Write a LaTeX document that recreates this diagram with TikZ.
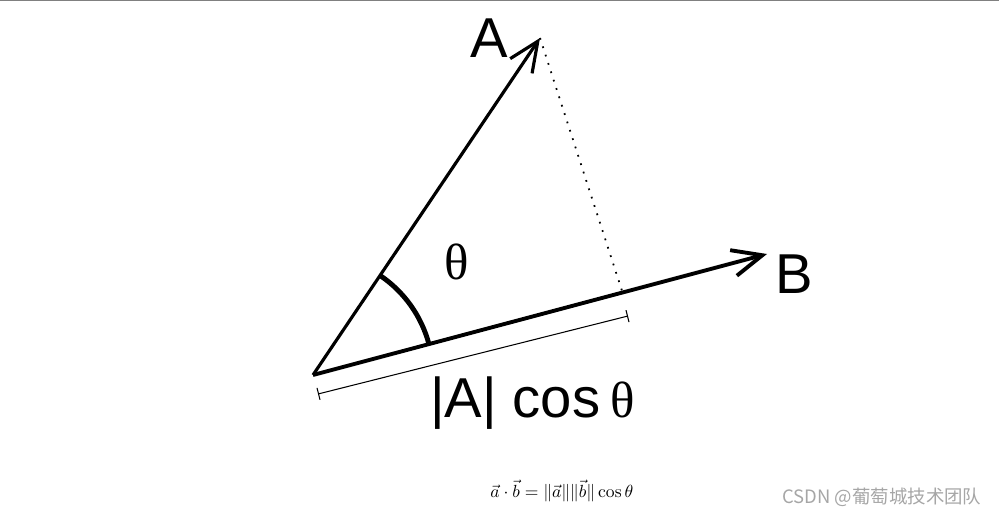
\documentclass[tikz,border=0pt]{standalone}
\usepackage[no-math]{fontspec}
\setmainfont{Liberation Sans}
\newfontfamily\thetafont{Liberation Serif}
\newfontfamily\cjkfont{Noto Sans CJK SC}
\usetikzlibrary{arrows.meta,positioning,calc}

\begin{document}
\begin{tikzpicture}[
	x=0.02cm,y=-0.02cm,
	vettore/.style={-{Straight Barb[length=17pt,width=15pt]},line width=1.8pt},
	etichetta/.style={inner sep=0pt,font=\fontsize{32}{36}\selectfont},
	greca/.style={inner sep=0pt,font=\fontsize{29}{32}\selectfont\thetafont},
	quota/.style={{Bar[width=7pt]}-{Bar[width=7pt]},line width=0.6pt}
	]
	
	% area dell'immagine
	\useasboundingbox (0,0) rectangle (999,523);
	\draw[gray,line width=0.6pt] (0,0.5) -- (999,0.5);
	
	% punti
	\coordinate (o) at (313,375);
	\coordinate (a) at (540,38);
	\coordinate (b) at (767,254);
	\coordinate (piede) at (624,297);
	\coordinate (q1) at (318,394);
	\coordinate (q2) at (628,316);
	
	% vettori
	\draw[vettore] (o) -- (a);
	\draw[vettore,line width=2.2pt] (o) -- (b);
	\draw[line width=1pt,dash pattern=on 1pt off 4pt] (a) -- (piede);
	
	% angolo e quota
	\draw[line width=2.8pt] ($(o)!2.4cm!(b)$) arc[start angle=14.9,end angle=56,radius=2.4cm];
	\draw[quota] (q1) -- (q2);
	
	% etichette
	\node[etichetta,left=0.64cm of a] (la) {A};
	\node[etichetta,below right=0cm and 0.16cm of b] (lb) {B};
	\node[greca] (lt) at (457,262) {θ};
	\node[etichetta,anchor=base west] (lq) at (430,417) {|A| cos\kern6pt{\thetafont\fontsize{29}{32}\selectfont θ}};
	
	% formula e firma
	\node[anchor=base west,inner sep=0pt,font=\fontsize{10.4}{12}\selectfont] (formula) at (490,497) {$\vec{a}\cdot\vec{b}=\|\vec{a}\|\|\vec{b}\|\cos\theta$};
	\node[anchor=base west,inner sep=0pt,text=gray!70,font=\fontsize{10.5}{12}\selectfont\cjkfont] (firma) at (782,503) {CSDN @葡萄城技术团队};
	
\end{tikzpicture}
\end{document}
